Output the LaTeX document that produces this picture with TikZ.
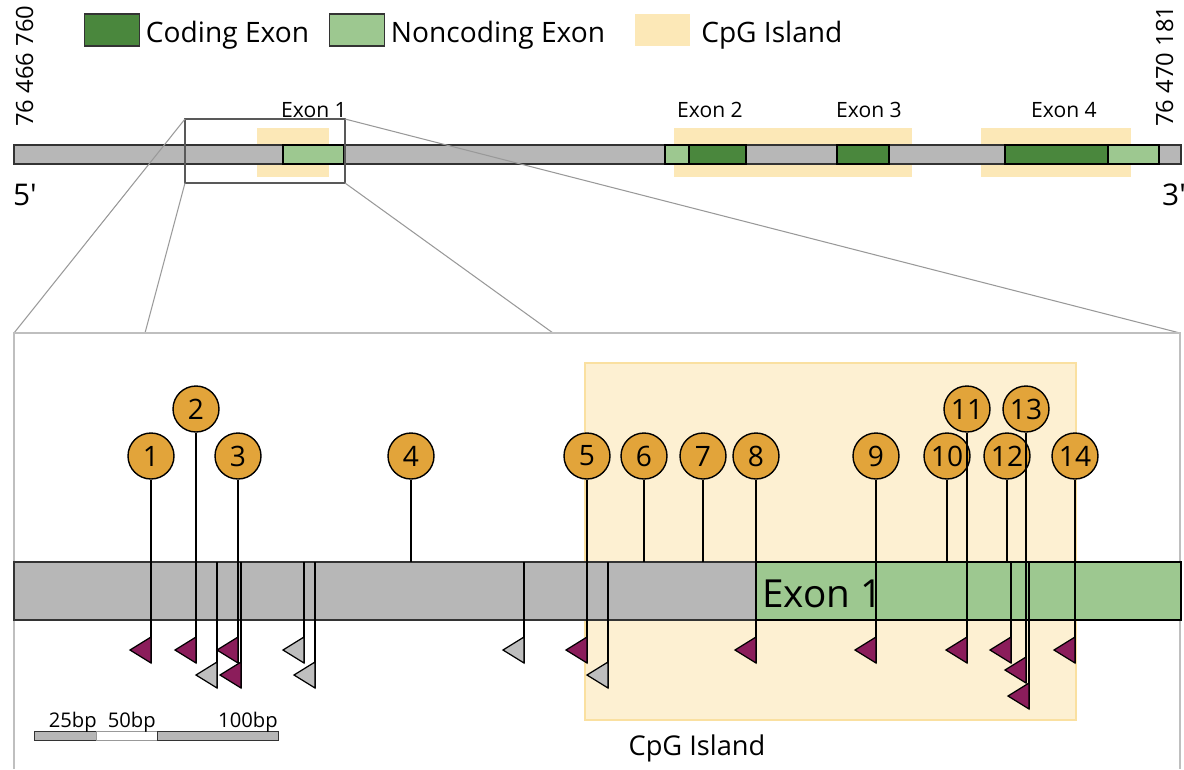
\documentclass[tikz,border=0pt]{standalone}
\usepackage{fontspec}
\setmainfont{Open Sans}
\usetikzlibrary{positioning}

\definecolor{bargrey}{RGB}{183,183,183}
\definecolor{coding}{RGB}{74,135,61}
\definecolor{noncoding}{RGB}{157,200,144}
\definecolor{cpgtop}{RGB}{252,232,183}
\definecolor{cpgbig}{RGB}{253,240,210}
\definecolor{cpgedge}{RGB}{250,224,160}
\definecolor{siteorange}{RGB}{226,164,58}
\definecolor{methyl}{RGB}{139,29,91}
\definecolor{unmethyl}{RGB}{190,190,190}

\tikzset{
  bar/.style={draw=black!80, line width=0.7pt, fill=bargrey},
  codex/.style={draw=black, line width=1pt, fill=coding},
  ncex/.style={draw=black, line width=1pt, fill=noncoding},
  legbox/.style={draw=black!80, line width=1pt, minimum width=1.1cm, minimum height=0.64cm, inner sep=0},
  legtext/.style={font=\fontsize{16}{18}\selectfont, inner sep=0, yshift=-0.11cm},
  exname/.style={font=\fontsize{12}{14}\selectfont, anchor=base, inner sep=0},
  zoomline/.style={draw=black!40, line width=0.6pt},
  site/.style={circle, draw=black, line width=0.8pt, fill=siteorange, minimum size=0.92cm, inner sep=0, font=\fontsize{16}{18}\selectfont},
  stem/.style={draw=black, line width=1pt},
  flagm/.style={draw=black, line width=0.7pt, fill=methyl},
  flagu/.style={draw=black, line width=0.7pt, fill=unmethyl},
}
% triangle marker: style, x, top y
\newcommand{\flagmark}[3]{\filldraw[#1] (#2,#3) -- ++(0,26) -- ++(-21,-13) -- cycle;}

\begin{document}
\begin{tikzpicture}[x=0.02cm,y=-0.02cm]
  \useasboundingbox (0,0) rectangle (1184,769);

  % legend
  \node[legbox, fill=coding]    (legcod) at (112,30) {};
  \node[legtext, right=3pt of legcod] {Coding Exon};
  \node[legbox, fill=noncoding] (legnc)  at (357,30) {};
  \node[legtext, right=3pt of legnc] {Noncoding Exon};
  \node[legbox, draw=none, fill=cpgtop] (legcpg) at (662,30) {};
  \node[legtext, right=6pt of legcpg] {CpG Island};

  % genomic coordinates
  \node[rotate=90, anchor=base west, inner sep=0, font=\fontsize{13.5}{15}\selectfont] (startpos) at (33,127) {76 466 760};
  \node[rotate=90, anchor=base west, inner sep=0, font=\fontsize{13.5}{15}\selectfont] (endpos) at (1173,127) {76 470 181};
  \node[anchor=base, inner sep=0, font=\fontsize{17}{18}\selectfont] (five) at (25,205) {5\textquotesingle};
  \node[anchor=base, inner sep=0, font=\fontsize{17}{18}\selectfont] (three) at (1174,205) {3\textquotesingle};

  % whole gene
  \fill[cpgtop] (257,128) rectangle (329,177);
  \fill[cpgtop] (674,128) rectangle (912,177);
  \fill[cpgtop] (981,128) rectangle (1131,177);
  \draw[bar] (14,145) rectangle (1181,164);
  \draw[ncex]  (283,145) rectangle (344,164);
  \draw[ncex]  (665,145) rectangle (689,164);
  \draw[codex] (689,145) rectangle (746,164);
  \draw[codex] (837,145) rectangle (889,164);
  \draw[codex] (1005,145) rectangle (1108,164);
  \draw[ncex]  (1108,145) rectangle (1159,164);
  \node[exname] (ex1) at (314,117) {Exon 1};
  \node[exname] (ex2) at (710,117) {Exon 2};
  \node[exname] (ex3) at (869,117) {Exon 3};
  \node[exname] (ex4) at (1064,117) {Exon 4};

  % zoom window
  \coordinate (zoom nw) at (185,119);
  \coordinate (zoom ne) at (345,119);
  \coordinate (zoom sw) at (185,183);
  \coordinate (zoom se) at (345,183);
  \coordinate (big nw) at (14,333);
  \coordinate (big ne) at (1180,333);
  \coordinate (big sw) at (145,333);
  \coordinate (big se) at (553,333);
  \draw[draw=black!65, line width=0.8pt] (zoom nw) rectangle (zoom se);
  \draw[zoomline] (zoom nw) -- (big nw);
  \draw[zoomline] (zoom sw) -- (big sw);
  \draw[zoomline] (zoom se) -- (big se);
  \draw[zoomline] (zoom ne) -- (big ne);
  \draw[draw=black!25, line width=0.8pt] (14,769) -- (big nw) -- (big ne) -- (1180,769);

  % zoomed region
  \filldraw[fill=cpgbig, draw=cpgedge, line width=0.6pt] (585,363) rectangle (1076,720);
  \node[anchor=base, inner sep=0, font=\fontsize{15.5}{18}\selectfont] (cpglabel) at (697,755) {CpG Island};
  \draw[bar, line width=1pt] (14,562) rectangle (1181,620);
  \draw[ncex] (756,562) rectangle (1181,620);
  \node[anchor=base west, inner sep=0, font=\fontsize{22}{26}\selectfont] (bigex) at (762,607) {Exon 1};

  \coordinate (bartop) at (0,562);
  \coordinate (low1) at (0,663);
  \coordinate (low2) at (0,688);
  \coordinate (low3) at (0,709);

  % sites without label
  \draw[stem] (217,562) -- (217,688);
  \draw[stem] (241,562) -- (241,688);
  \draw[stem] (304,562) -- (304,663);
  \draw[stem] (315,562) -- (315,688);
  \draw[stem] (524,562) -- (524,663);
  \draw[stem] (608,562) -- (608,688);
  \draw[stem] (1011,562) -- (1011,663);
  \draw[stem] (1029,562) -- (1029,709);

  % labelled sites
  \node[site] (s1)  at (151,456) {1};
  \node[site] (s2)  at (196,409) {2};
  \node[site] (s3)  at (238,456) {3};
  \node[site] (s4)  at (411,456) {4};
  \node[site] (s5)  at (587,456) {5};
  \node[site] (s6)  at (644,456) {6};
  \node[site] (s7)  at (703,456) {7};
  \node[site] (s8)  at (756,456) {8};
  \node[site] (s9)  at (876,456) {9};
  \node[site] (s10) at (947,456) {10};
  \node[site] (s11) at (967,409) {11};
  \node[site] (s12) at (1007,456) {12};
  \node[site] (s13) at (1026,409) {13};
  \node[site] (s14) at (1075,456) {14};

  \draw[stem] (s1) -- (s1 |- low1);
  \draw[stem] (s2) -- (s2 |- low1);
  \draw[stem] (s3) -- (s3 |- low1);
  \draw[stem] (s4) -- (s4 |- bartop);
  \draw[stem] (s5) -- (s5 |- low1);
  \draw[stem] (s6) -- (s6 |- bartop);
  \draw[stem] (s7) -- (s7 |- bartop);
  \draw[stem] (s8) -- (s8 |- low1);
  \draw[stem] (s9) -- (s9 |- low1);
  \draw[stem] (s10) -- (s10 |- bartop);
  \draw[stem] (s11) -- (s11 |- low1);
  \draw[stem] (s12) -- (s12 |- bartop);
  \draw[stem] (s13) -- (1026,683);
  \draw[stem] (s14) -- (s14 |- low1);

  % methylation calls
  \flagmark{flagm}{151}{637}
  \flagmark{flagm}{196}{637}
  \flagmark{flagm}{238}{637}
  \flagmark{flagm}{241}{662}
  \flagmark{flagm}{587}{637}
  \flagmark{flagm}{756}{637}
  \flagmark{flagm}{876}{637}
  \flagmark{flagm}{967}{637}
  \flagmark{flagm}{1011}{637}
  \flagmark{flagm}{1026}{657}
  \flagmark{flagm}{1029}{683}
  \flagmark{flagm}{1075}{637}
  \flagmark{flagu}{217}{662}
  \flagmark{flagu}{304}{637}
  \flagmark{flagu}{315}{662}
  \flagmark{flagu}{524}{637}
  \flagmark{flagu}{608}{662}

  % scale
  \draw[bar, line width=0.5pt] (34,731) rectangle (96,740);
  \draw[draw=black!40, line width=0.5pt] (96,731) rectangle (157,740);
  \draw[bar, line width=0.5pt] (157,731) rectangle (278,740);
  \node[anchor=base east, inner sep=0, font=\fontsize{11.5}{13}\selectfont] (sc25)  at (97,727) {25bp};
  \node[anchor=base east, inner sep=0, font=\fontsize{11.5}{13}\selectfont] (sc50)  at (156,727) {50bp};
  \node[anchor=base east, inner sep=0, font=\fontsize{11.5}{13}\selectfont] (sc100) at (278,727) {100bp};
\end{tikzpicture}
\end{document}
